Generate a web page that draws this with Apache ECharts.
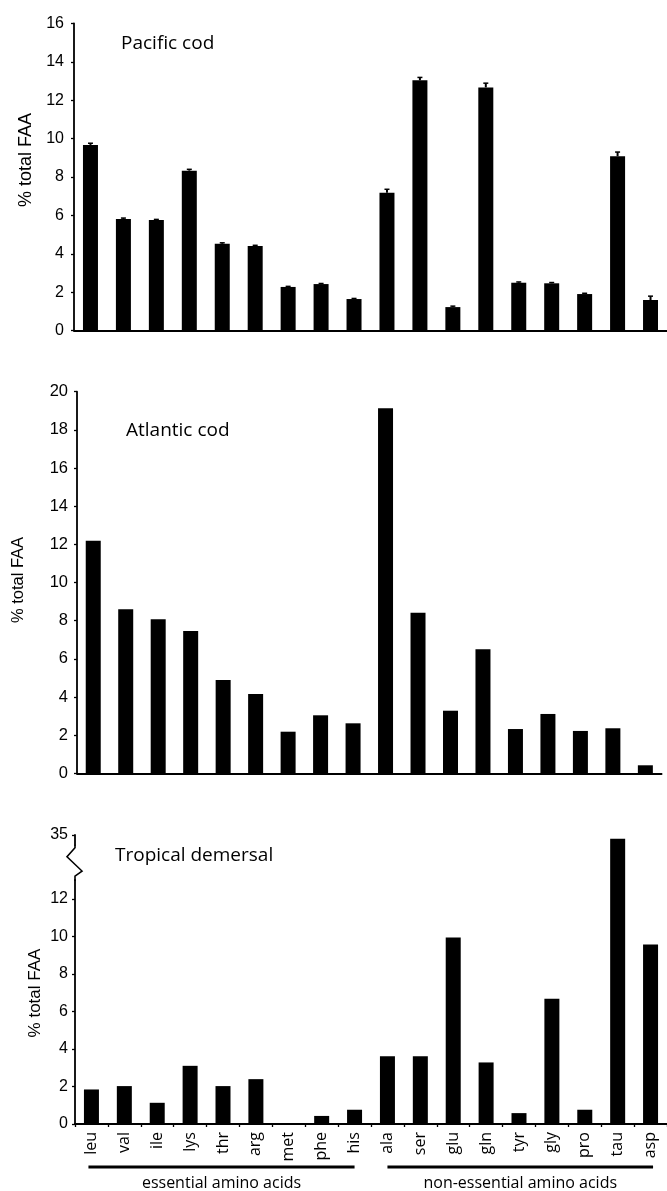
<!DOCTYPE html>
<html>
<head>
<meta charset="utf-8">
<script src="https://cdn.jsdelivr.net/npm/echarts@6/dist/echarts.min.js"></script>
<style>
  html, body { margin: 0; padding: 0; background: #fff; }
  #chart { width: 667px; height: 1191px; }
</style>
</head>
<body>
<div id="chart"></div>
<script>
// Free amino acid composition (% of total FAA) in three fish groups
const aminoAcids = ['leu', 'val', 'ile', 'lys', 'thr', 'arg', 'met', 'phe', 'his',
                    'ala', 'ser', 'glu', 'gln', 'tyr', 'gly', 'pro', 'tau', 'asp'];
const essentialGroup = ['leu', 'his'];
const nonEssentialGroup = ['ala', 'asp'];

const pacificCod    = [9.67, 5.81, 5.76, 8.33, 4.52, 4.40, 2.27, 2.42, 1.64,
                       7.18, 13.04, 1.22, 12.67, 2.49, 2.46, 1.90, 9.08, 1.59];
const pacificCodErr = [0.09, 0.05, 0.03, 0.07, 0.05, 0.04, 0.03, 0.03, 0.03,
                       0.18, 0.15, 0.05, 0.22, 0.04, 0.04, 0.04, 0.22, 0.20];
const atlanticCod   = [12.19, 8.60, 8.07, 7.46, 4.89, 4.16, 2.18, 3.04, 2.62,
                       19.13, 8.42, 3.28, 6.50, 2.32, 3.11, 2.22, 2.36, 0.42];
const tropicalDemersal = [1.84, 2.02, 1.13, 3.10, 2.02, 2.39, 0, 0.43, 0.76,
                          3.61, 3.61, 9.94, 3.28, 0.58, 6.68, 0.76, 34.8, 9.56];

const panelTitles = ['Pacific cod', 'Atlantic cod', 'Tropical demersal'];
const yAxisTitle = '% total FAA';
const groupLabels = ['essential amino acids', 'non-essential amino acids'];

const pacificTicks = { min: 0, max: 16, interval: 2 };
const atlanticTicks = { min: 0, max: 20, interval: 2 };
const tropicalTicks = [0, 2, 4, 6, 8, 10, 12, 35];
const tropicalBreak = { start: 13, end: 34, gap: 1.4 };

const INK = '#000';
const tickFont = 'Liberation Sans, Arial, sans-serif';
const textFont = 'Open Sans, Noto Sans, sans-serif';

const chart = echarts.init(document.getElementById('chart'), null, { renderer: 'canvas' });

function yAxisBase(labelMargin, fontSize) {
  return {
    type: 'value',
    axisLine: { show: true, lineStyle: { color: INK, width: 1.8 } },
    axisTick: { show: true, length: 3, lineStyle: { color: INK, width: 1.3 } },
    axisLabel: { color: INK, fontFamily: tickFont, fontSize: fontSize, margin: labelMargin },
    splitLine: { show: false }
  };
}

function xAxisBase(gridIndex, showLabels) {
  return {
    type: 'category',
    gridIndex: gridIndex,
    data: aminoAcids,
    boundaryGap: true,
    axisLine: { show: true, lineStyle: { color: INK, width: 1.8 } },
    axisTick: { show: showLabels, length: 3, alignWithLabel: false, lineStyle: { color: INK, width: 1.3 } },
    axisLabel: showLabels ? {
      show: true, rotate: 90, margin: 8, color: INK,
      fontFamily: textFont, fontSize: 16, interval: 0
    } : { show: false }
  };
}

function barSeries(axisIndex, values) {
  return {
    type: 'bar',
    xAxisIndex: axisIndex,
    yAxisIndex: axisIndex,
    data: values,
    barWidth: 15,
    itemStyle: { color: INK },
    silent: true
  };
}

const option = {
  animation: false,
  backgroundColor: '#fff',
  grid: [
    { left: 74, top: 23.5, width: 593, height: 307 },
    { left: 77, top: 391.7, width: 584.6, height: 381.6 },
    { left: 75, top: 835, width: 592, height: 289 }
  ],
  xAxis: [xAxisBase(0, false), xAxisBase(1, false), xAxisBase(2, true)],
  yAxis: [
    Object.assign(yAxisBase(10, 16), { gridIndex: 0 }, pacificTicks),
    Object.assign(yAxisBase(9, 16.5), { gridIndex: 1 }, atlanticTicks),
    (function () {
      const ax = Object.assign(yAxisBase(7, 16), { gridIndex: 2, min: 0, max: 35 });
      ax.breaks = [tropicalBreak];
      ax.breakArea = { show: false };
      ax.axisTick.customValues = tropicalTicks;
      ax.axisLabel.customValues = tropicalTicks;
      return ax;
    })()
  ],
  series: [
    barSeries(0, pacificCod),
    barSeries(1, atlanticCod),
    barSeries(2, tropicalDemersal),
    {
      // error bars on the Pacific cod means
      type: 'custom',
      xAxisIndex: 0,
      yAxisIndex: 0,
      silent: true,
      data: pacificCod.map((v, i) => [i, v, v + pacificCodErr[i]]),
      renderItem: function (params, api) {
        const base = api.coord([api.value(0), api.value(1)]);
        const top = api.coord([api.value(0), api.value(2)]);
        return {
          type: 'group',
          children: [
            { type: 'line', shape: { x1: base[0], y1: base[1], x2: top[0], y2: top[1] },
              style: { stroke: INK, lineWidth: 2 } },
            { type: 'line', shape: { x1: top[0] - 2.5, y1: top[1], x2: top[0] + 2.5, y2: top[1] },
              style: { stroke: INK, lineWidth: 1.5 } }
          ]
        };
      }
    }
  ]
};

chart.setOption(option);

// Annotations placed from the axes' own scales
const catX = (name) => chart.convertToPixel({ xAxisIndex: 2 }, name);
const tropY = (v) => chart.convertToPixel({ yAxisIndex: 2 }, v);

const breakLow = tropY(tropicalBreak.start);
const breakHigh = tropY(tropicalBreak.end);
const yAxisLeft = 75;

const graphics = [
  // panel titles
  { type: 'text', left: 121, top: 34, style: { text: panelTitles[0], fill: INK, font: '19px ' + textFont } },
  { type: 'text', left: 126, top: 421, style: { text: panelTitles[1], fill: INK, font: '19px ' + textFont } },
  { type: 'text', left: 115, top: 846, style: { text: panelTitles[2], fill: INK, font: '19px ' + textFont } },
  // y-axis titles
  { type: 'text', x: 26, y: 160, rotation: Math.PI / 2,
    style: { text: yAxisTitle, fill: INK, font: '18px ' + tickFont, align: 'center', verticalAlign: 'middle' } },
  { type: 'text', x: 18, y: 580, rotation: Math.PI / 2,
    style: { text: yAxisTitle, fill: INK, font: '16.5px ' + tickFont, align: 'center', verticalAlign: 'middle' } },
  { type: 'text', x: 35, y: 993, rotation: Math.PI / 2,
    style: { text: yAxisTitle, fill: INK, font: '17px ' + tickFont, align: 'center', verticalAlign: 'middle' } },
  // axis break marker on the tropical y-axis
  { type: 'rect', shape: { x: yAxisLeft - 3, y: breakHigh - 8, width: 6, height: (breakLow - breakHigh) + 4 },
    style: { fill: '#fff' }, z: 100 },
  { type: 'polyline', z: 101,
    shape: { points: [
      [yAxisLeft, breakHigh - 9],
      [yAxisLeft, breakHigh - 6],
      [yAxisLeft - 8, breakHigh + 3],
      [yAxisLeft + 7, breakLow - 9],
      [yAxisLeft, breakLow - 4],
      [yAxisLeft, breakLow + 1]
    ] },
    style: { stroke: INK, lineWidth: 1.6, fill: null } }
];

// group brackets under the category labels
const groups = [essentialGroup, nonEssentialGroup];
groups.forEach(function (g, i) {
  const x1 = catX(g[0]) - (i === 0 ? 3 : 0);
  const x2 = catX(g[1]) + (i === 0 ? 0 : 2.5);
  graphics.push({ type: 'line', shape: { x1: x1, y1: 1167, x2: x2, y2: 1167 },
    style: { stroke: INK, lineWidth: 3 } });
  graphics.push({ type: 'text', x: (x1 + x2) / 2, y: 1183,
    style: { text: groupLabels[i], fill: INK, font: '16px ' + textFont, align: 'center', verticalAlign: 'middle' } });
});

chart.setOption({ graphic: graphics });
</script>
</body>
</html>
